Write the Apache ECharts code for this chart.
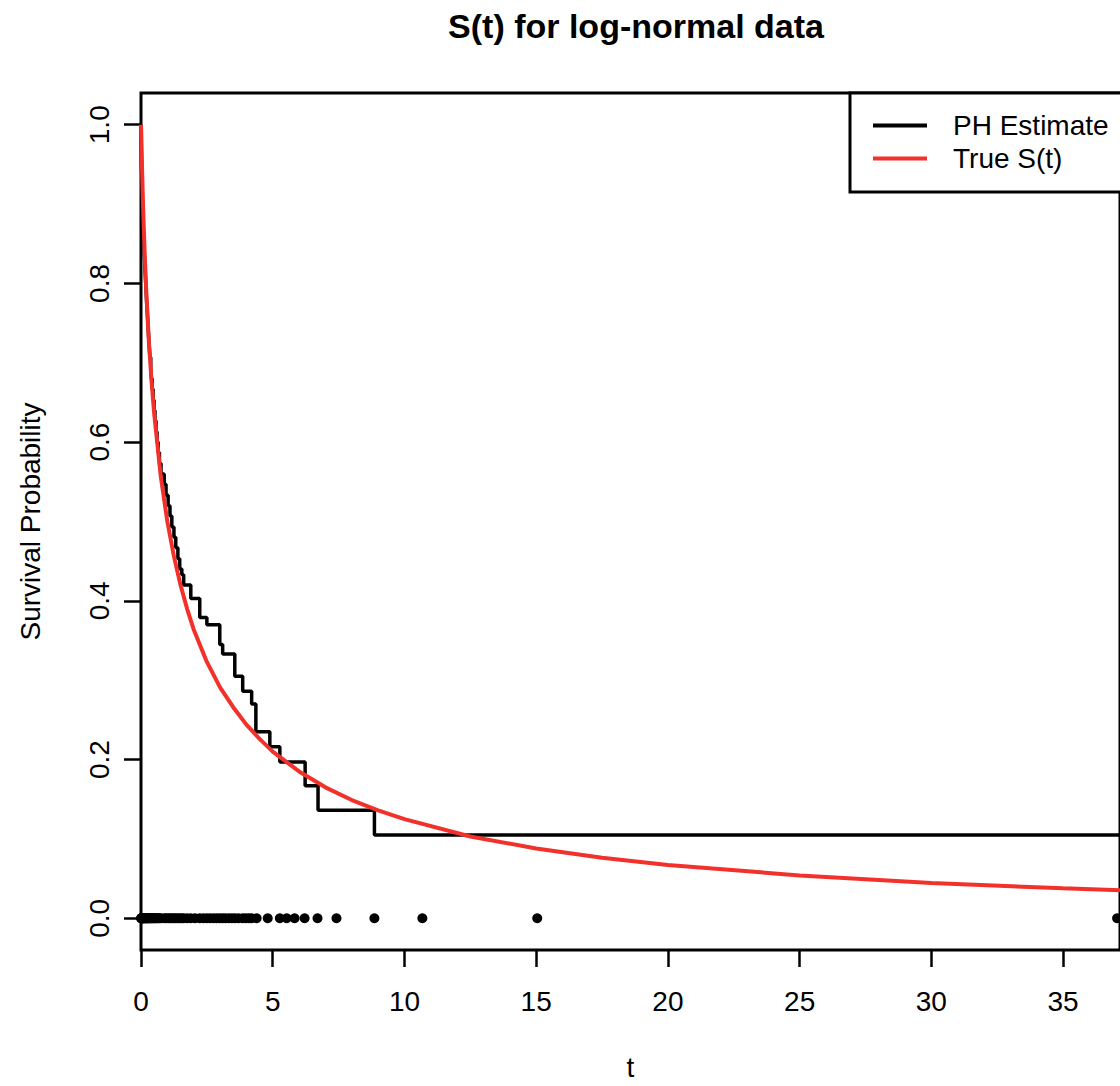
<!DOCTYPE html>
<html>
<head>
<meta charset="utf-8">
<script src="https://cdn.jsdelivr.net/npm/echarts@6/dist/echarts.min.js"></script>
<style>
html,body{margin:0;padding:0;background:#fff;overflow:hidden;width:1120px;height:1086px;}
#chart{width:1120px;height:1086px;overflow:hidden;}
#chart svg,#chart canvas,#chart div{display:block;}
</style>
</head>
<body>
<div id="chart"></div>
<script>
// ---- data ----
const chartTitle = 'S(t) for log-normal data';
const xName = 't';
const yName = 'Survival Probability';
const seriesNames = ['PH Estimate', 'True S(t)'];
const xTicks = [0, 5, 10, 15, 20, 25, 30, 35];
const yTicks = [0, 0.2, 0.4, 0.6, 0.8, 1.0];
const xMax = 37.16;

// PH estimate: jump times and survival value after each jump
const phTime = [0.005,0.01,0.015,0.02,0.03,0.04,0.05,0.06,0.075,0.09,0.105,0.12,0.14,0.16,0.18,0.2,0.22,0.245,0.265,0.29,0.315,0.34,0.37,0.395,0.425,0.46,0.495,0.53,0.57,0.61,0.655,0.7,0.76,0.88,0.95,1.03,1.1,1.17,1.25,1.32,1.4,1.47,1.55,1.62,1.89,2.23,2.5,2.99,3.1,3.56,3.86,4.2,4.36,4.89,5.27,6.23,6.72,8.86];
const phSurv = [0.987,0.973,0.96,0.947,0.933,0.92,0.907,0.893,0.88,0.867,0.853,0.84,0.827,0.813,0.8,0.787,0.773,0.76,0.747,0.733,0.72,0.707,0.693,0.68,0.667,0.653,0.64,0.627,0.613,0.6,0.587,0.573,0.56,0.547,0.533,0.52,0.507,0.493,0.48,0.467,0.453,0.44,0.433,0.42,0.403,0.379,0.37,0.345,0.333,0.305,0.286,0.27,0.235,0.216,0.197,0.167,0.136,0.105];

// True S(t) curve, read at these times
const trueTime = [0,0.005,0.01,0.02,0.03,0.05,0.075,0.1,0.15,0.2,0.3,0.4,0.5,0.75,1,1.25,1.5,1.75,2,2.5,3,3.5,4,4.5,5,6,7,8,9,10,12.5,15,17.5,20,25,30,35,37.16];
const trueSurv = [1,0.996,0.989,0.975,0.96,0.933,0.902,0.875,0.829,0.79,0.726,0.677,0.636,0.557,0.5,0.456,0.42,0.39,0.364,0.323,0.291,0.266,0.244,0.226,0.21,0.185,0.165,0.149,0.136,0.125,0.103,0.088,0.0762,0.067,0.054,0.0445,0.0377,0.0354];

// observed times drawn as a rug at S = 0
const rugTime = [0.005,0.01,0.015,0.02,0.03,0.04,0.05,0.06,0.075,0.09,0.105,0.12,0.14,0.16,0.18,0.2,0.22,0.245,0.265,0.29,0.315,0.34,0.37,0.395,0.425,0.46,0.495,0.53,0.57,0.61,0.655,0.7,0.76,0.88,0.95,1.03,1.1,1.17,1.25,1.32,1.4,1.47,1.55,1.62,1.75,1.89,2.05,2.23,2.37,2.5,2.62,2.75,2.87,2.99,3.1,3.2,3.33,3.45,3.56,3.7,3.86,3.98,4.1,4.2,4.39,4.81,5.27,5.53,5.83,6.21,6.7,7.42,8.86,10.68,15.04,37.05];

// ---- build ----
const FONT = '"Liberation Sans", Arial, Helvetica, sans-serif';
const RED = '#f2312a';
const phData = [[0, 1]];
phTime.forEach((t, i) => phData.push([t, phSurv[i]]));
phData.push([xMax, phSurv[phSurv.length - 1]]);
const trueData = trueTime.map((t, i) => [t, trueSurv[i]]);
const rugData = rugTime.map(t => [t, 0]);

const chart = echarts.init(document.getElementById('chart'), null, {renderer: 'svg', width: 1120, height: 1086});
chart.setOption({
  animation: false,
  backgroundColor: '#fff',
  textStyle: {fontFamily: FONT},
  title: {
    text: chartTitle,
    left: 631, top: 4,
    textAlign: 'center',
    textStyle: {fontFamily: FONT, fontSize: 34, fontWeight: 'bold', color: '#000'}
  },
  grid: {
    left: 141, width: 981, top: 93, height: 865,
    show: true, borderColor: '#000', borderWidth: 3, backgroundColor: 'transparent'
  },
  legend: {
    data: seriesNames,
    left: 850, top: 93,
    orient: 'vertical',
    itemGap: 0,
    itemWidth: 54, itemHeight: 4,
    icon: 'rect',
    selectedMode: false,
    padding: [16, 60, 17, 23],
    borderColor: '#000', borderWidth: 3,
    backgroundColor: '#fff',
    textStyle: {fontFamily: FONT, fontSize: 28, color: '#000', lineHeight: 33, padding: [0, 0, 0, 21]}
  },
  xAxis: {
    type: 'value', min: 0, max: xMax, interval: 5,
    name: xName, nameLocation: 'middle', nameGap: 103,
    nameTextStyle: {fontFamily: FONT, fontSize: 28, color: '#000'},
    axisLine: {show: false, onZero: false},
    splitLine: {show: false},
    axisTick: {show: true, customValues: xTicks, length: 17, lineStyle: {color: '#000', width: 2.5}},
    axisLabel: {customValues: xTicks, fontFamily: FONT, fontSize: 28, color: '#000', margin: 37}
  },
  yAxis: {
    type: 'value', min: -0.04, max: 1.04,
    name: yName, nameLocation: 'middle', nameGap: 97,
    nameTextStyle: {fontFamily: FONT, fontSize: 28, color: '#000'},
    axisLine: {show: false, onZero: false},
    splitLine: {show: false},
    axisTick: {show: true, customValues: yTicks, length: 17, lineStyle: {color: '#000', width: 2.5}},
    axisLabel: {customValues: yTicks, rotate: 90, fontFamily: FONT, fontSize: 28, color: '#000', margin: 28,
      formatter: v => v.toFixed(1)}
  },
  series: [
    {
      name: 'rug', type: 'scatter', data: rugData, symbol: 'circle', symbolSize: 10,
      itemStyle: {color: '#000', opacity: 1}, z: 2, silent: true
    },
    {
      name: seriesNames[0], type: 'line', step: 'end', data: phData, showSymbol: false,
      color: '#000', lineStyle: {color: '#000', width: 3.5}, z: 3
    },
    {
      name: seriesNames[1], type: 'line', data: trueData, showSymbol: false,
      color: RED, lineStyle: {color: RED, width: 4}, z: 4
    }
  ]
});
</script>
</body>
</html>
